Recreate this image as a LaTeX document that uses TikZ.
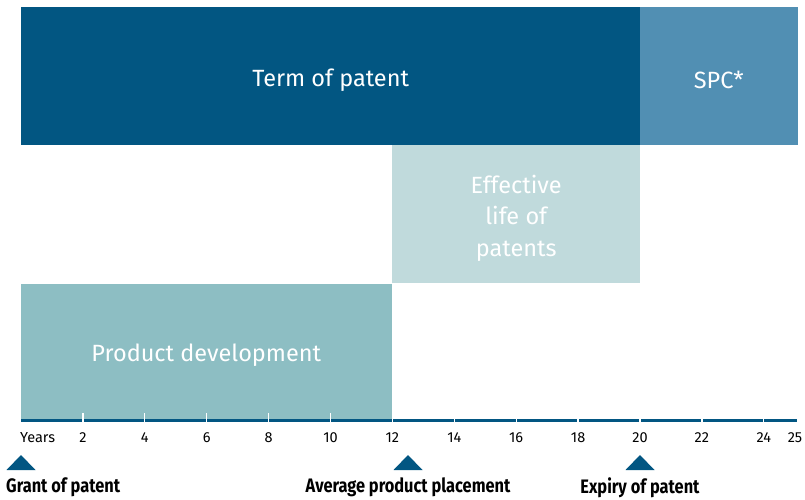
\documentclass[tikz,border=0pt]{standalone}
\usepackage{fontspec}
\setmainfont{Fira Sans}
\newfontfamily\condfont[FakeStretch=0.84]{Fira Sans}
\usetikzlibrary{positioning}

\definecolor{patdark}{RGB}{2,86,130}
\definecolor{patspc}{RGB}{81,143,179}
\definecolor{pateff}{RGB}{192,218,220}
\definecolor{patdev}{RGB}{141,190,195}

% lower the ink of a bar text line, keep its box
\newcommand{\barline}[1]{\raisebox{-4pt}[\height][\depth]{#1}}

\begin{document}
\begin{tikzpicture}[x=1pt,y=-1pt,node distance=4pt]

	\tikzset{bar/.style={draw=none, inner sep=0pt, text=white,
			font=\fontsize{23.5}{31.5}\selectfont, align=center}}
	\tikzset{year lbl/.style={font=\fontsize{14.5}{16}\selectfont, text=black}}
	\tikzset{mark lbl/.style={font=\condfont\bfseries\fontsize{19.5}{21}\selectfont,
			text=black, inner sep=0pt}}

	\useasboundingbox (0,0) rectangle (805,500);

	\node[bar, fill=patdark, minimum width=619pt, minimum height=138pt,
		anchor=north west] (term) at (21,7) {\barline{Term of patent}};
	\node[bar, fill=patspc, minimum width=157.6pt, minimum height=138pt,
		anchor=north west] (spc) at ([xshift=-0.6pt]term.north east) {\barline{SPC*}};
	\node[bar, fill=pateff, minimum width=248pt, minimum height=138pt,
		anchor=north east] (eff) at ([yshift=0.4pt]term.south east)
		{\barline{Effective}\\\barline{life of}\\\barline{patents}};
	\node[bar, fill=patdev, minimum width=371pt, minimum height=135pt,
		anchor=north east] (dev) at (eff.south west) {\barline{Product development}};

	% time axis
	\coordinate (ax0) at (21,420);
	\coordinate (ax1) at (797,420);
	\draw[patdark, line width=3pt] (ax0) -- (ax1);
	\foreach \y in {2,4,...,24} {
		\draw[white, line width=1.3pt] (21+\y*30.95,413) -- (21+\y*30.95,422);
		\node[year lbl] (y\y) at (21+\y*30.95,438) {\y};
	};
	\node[year lbl, anchor=west, inner sep=0pt] (y0) at (20,438) {Years};
	\node[year lbl] (y25) at (795,438) {25};

	% milestones
	\foreach \n/\x in {grant/21, place/408, expiry/640} {
		\coordinate (\n) at (\x,470);
		\fill[patdark] (\x-14.5,470) -- (\x+14.5,470) -- (\x,455) -- cycle;
	};
	\node[mark lbl, anchor=north west] (grantlbl) at (6,477) {Grant of patent};
	\node[mark lbl, below=7pt of place] (placelbl) {Average product placement};
	\node[mark lbl, below=7pt of expiry] (expirylbl) {Expiry of patent};

\end{tikzpicture}
\end{document}
